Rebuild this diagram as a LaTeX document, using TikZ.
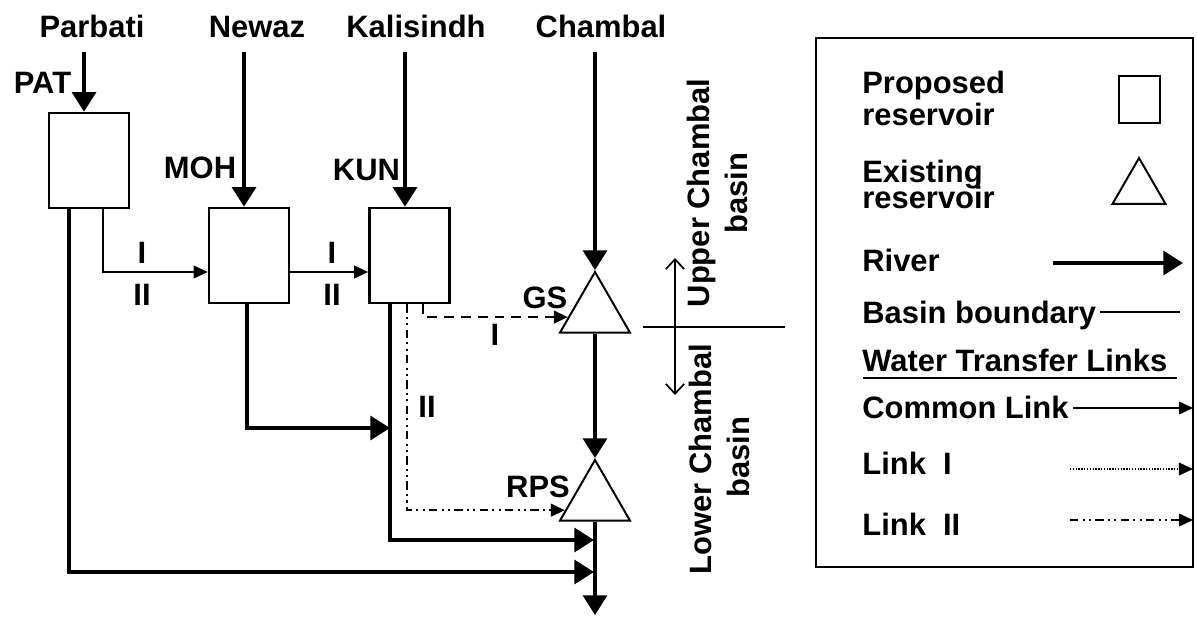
\documentclass[tikz,border=0pt]{standalone}
\usepackage{fontspec}
\setmainfont{Liberation Sans}
\usetikzlibrary{arrows.meta,shapes.geometric,calc}
\tikzset{every picture/.style={line width=0.5pt}}
\tikzset{
  lbl/.style={font=\fontsize{22}{26}\selectfont\bfseries, inner sep=0pt, anchor=base},
  leg/.style={lbl, anchor=base west},
  resbox/.style={draw, line width=1.8pt, minimum width=2cm, minimum height=2.375cm, inner sep=0pt},
  restri/.style={draw, regular polygon, regular polygon sides=3, line width=1.4pt, inner sep=0pt, minimum size=2.02cm},
  river/.style={line width=2.6pt, -{Triangle[length=14pt,width=17pt]}},
  common/.style={line width=1.4pt, -{Triangle[length=10pt,width=9pt]}},
  linkI/.style={line width=1.6pt, dash pattern=on 7pt off 5pt, -{Triangle[length=10pt,width=9pt]}},
  linkII/.style={line width=1.6pt, dash pattern=on 6pt off 3pt on 1.5pt off 3pt on 1.5pt off 3pt, -{Triangle[length=10pt,width=9pt]}},
}

\begin{document}
\begin{tikzpicture}[x=0.025cm,y=-0.025cm]
\useasboundingbox (0,0) rectangle (1197,620);
% rivers
\node[lbl] (parbati) at (92,37) {Parbati};
\node[lbl] (newaz) at (257,37) {Newaz};
\node[lbl] (kalisindh) at (416,37) {Kalisindh};
\node[lbl] (chambal) at (601,37) {Chambal};
% reservoirs
\node[resbox] (pat) at (89,160.5) {};
\node[resbox] (moh) at (249,255.5) {};
\node[resbox] (kun) at (409.5,255.5) {};
\node[restri] (gs) at (595,312.4) {};
\node[restri] (rps) at (595,500.4) {};
\node[lbl] (patlbl) at (42.5,93) {PAT};
\node[lbl] (mohlbl) at (200,178) {MOH};
\node[lbl] (kunlbl) at (366.5,180) {KUN};
\node[lbl] (gslbl) at (545,308) {GS};
\node[lbl] (rpslbl) at (538,497) {RPS};
\coordinate (srcP) at (84,52);
\coordinate (srcN) at (244,52);
\coordinate (srcK) at (405,52);
\coordinate (srcC) at (595,52);
\coordinate (jm) at (390,428);
\coordinate (jk) at (594,540);
\coordinate (jp) at (594,572);
\coordinate (outlet) at (595,615);
\coordinate (mohin) at ($(moh.west)+(0,16.5)$);
\coordinate (gsin) at ($(gs.corner 1)!0.74!(gs.corner 2)$);
\coordinate (rpsin) at ($(rps.corner 1)!0.82!(rps.corner 2)$);
\draw[river] (srcP) -- (srcP |- pat.north);
\draw[river] (srcN) -- (srcN |- moh.north);
\draw[river] (srcK) -- (srcK |- kun.north);
\draw[river] (srcC) -- (gs.corner 1);
\draw[river] (gs.side 2) -- (rps.corner 1);
\draw[river] (rps.side 2) -- (outlet);
\draw[river] ($(moh.south)+(-2,0)$) |- (jm);
\draw[river] (kun.south -| jm) |- (jk);
\draw[river] ($(pat.south)+(-20,0)$) |- (jp);
% transfer links
\draw[common] ($(pat.south)+(14,0)$) |- (mohin);
\draw[common] (moh.east |- mohin) -- (kun.west |- mohin);
\node[lbl] (ca1) at (142,263) {I};
\node[lbl] (ca2) at (142,305) {II};
\node[lbl] (cb1) at (332,263) {I};
\node[lbl] (cb2) at (332,305) {II};
\draw[linkI] ($(kun.south)+(13.5,0)$) |- (gsin);
\draw[linkII] ($(kun.south)+(-2.5,0)$) |- (rpsin);
\node[lbl] (l1lbl) at (495,345) {I};
\node[lbl] (l2lbl) at (427,417) {II};
% basin boundary
\draw[line width=1.2pt] (643,327) -- (785,327);
\draw[line width=1.2pt, {Straight Barb[length=7pt,width=13pt]}-{Straight Barb[length=7pt,width=13pt]}] (675,258) -- (675,395);
\node[lbl, rotate=90] (upper) at (709,193) {Upper Chambal};
\node[lbl, rotate=90] (upperb) at (747,193) {basin};
\node[lbl, rotate=90] (lower) at (711,459) {Lower Chambal};
\node[lbl, rotate=90] (lowerb) at (749,457) {basin};
% legend
\draw[line width=1.6pt] (816,38) rectangle (1193,567);
\node[leg] (lgp1) at (862,93) {Proposed};
\node[leg] (lgp2) at (862,125) {reservoir};
\node[draw, line width=1.4pt, minimum width=1.025cm, minimum height=1.175cm, inner sep=0pt] (lgbox) at (1139.5,99.5) {};
\node[leg] (lge1) at (862,182) {Existing};
\node[leg] (lge2) at (862,208) {reservoir};
\node[restri, minimum size=1.53cm] (lgtri) at (1139,188.6) {};
\node[leg] (lgriver) at (862,271) {River};
\draw[river] (1053,263) -- (1183,263);
\node[leg] (lgbasin) at (862,323) {Basin boundary};
\draw[line width=1.2pt] (1100,312) -- (1180,312);
\node[leg] (lgwtl) at (862,371) {Water Transfer Links};
\draw[line width=1.3pt] (863,378) -- (1177,378);
\node[leg] (lgcommon) at (862,418) {Common Link};
\draw[common] (1073,408) -- (1193,408);
\node[leg] (lglinkI) at (862,474) {Link\ \ I};
\draw[line width=1.2pt, dash pattern=on 1pt off 1pt, -{Triangle[length=10pt,width=9pt]}] (1070,469) -- (1193,469);
\node[leg] (lglinkII) at (862,535) {Link\ \ II};
\draw[linkII] (1070,520) -- (1193,520);
\end{tikzpicture}
\end{document}
